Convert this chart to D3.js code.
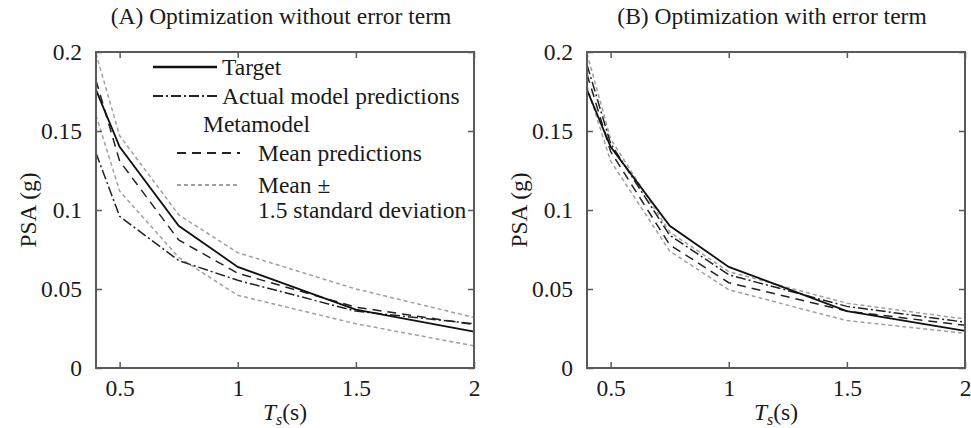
<!DOCTYPE html>
<html>
<head>
<meta charset="utf-8">
<script src="https://cdn.jsdelivr.net/npm/d3@7"></script>
<style>
  body { margin: 0; background: #fff; }
  svg { display: block; font-family: "Liberation Serif", "Times New Roman", serif; }
  svg text { font-family: "Liberation Serif", "Times New Roman", serif; }
</style>
</head>
<body>
<svg id="chart" width="971" height="428"></svg>
<script>
// periods (s) and tick values
const periods = [0.4, 0.5, 0.75, 1, 1.5, 2];
const xTicks = [0.5, 1, 1.5, 2];
const yTicks = [0, 0.05, 0.1, 0.15, 0.2];
const titles = ["(A) Optimization without error term", "(B) Optimization with error term"];

// panel A - without error term
const targetA = [0.176, 0.140, 0.090, 0.064, 0.037, 0.023];
const actualA = [0.136, 0.096, 0.068, 0.0555, 0.036, 0.028];
const meanA   = [0.182, 0.131, 0.081, 0.060, 0.0385, 0.0275];
const upperA  = [0.199, 0.147, 0.097, 0.073, 0.050, 0.032];
const lowerA  = [0.160, 0.112, 0.070, 0.046, 0.028, 0.014];

// panel B - with error term
const targetB = [0.176, 0.140, 0.090, 0.064, 0.036, 0.0235];
const actualB = [0.192, 0.142, 0.084, 0.059, 0.039, 0.029];
const meanB   = [0.186, 0.137, 0.078, 0.054, 0.036, 0.027];
const upperB  = [0.199, 0.145, 0.086, 0.061, 0.041, 0.031];
const lowerB  = [0.178, 0.131, 0.074, 0.0495, 0.030, 0.022];

const svg = d3.select('#chart');
const fontSize = 23.5;
const serif = '"Liberation Serif", "Times New Roman", serif';
const frameColor = '#5a5a5a';
const textColor = '#1a1a1a';

// line styles
const styles = {
  target: { stroke: '#111', width: 1.8, dash: null },
  actual: { stroke: '#222', width: 1.5, dash: '10,3,2,3' },
  mean:   { stroke: '#222', width: 1.5, dash: '9,6' },
  band:   { stroke: '#a0a0a0', width: 1.5, dash: '4,3' }
};

function drawPanel(left, right, top, bottom, title, series){
  const x = d3.scaleLinear().domain([0.4, 2]).range([left, right]);
  const y = d3.scaleLinear().domain([0, 0.2]).range([bottom, top]);
  const g = svg.append('g');

  const line = d3.line().x(d => x(d[0])).y(d => y(d[1]));

  // curves (grey bands first, then black lines on top)
  series.forEach(s => {
    const st = styles[s.kind];
    g.append('path')
      .datum(periods.map((p, i) => [p, s.values[i]]))
      .attr('d', line)
      .attr('fill', 'none')
      .attr('stroke', st.stroke)
      .attr('stroke-width', st.width)
      .attr('stroke-dasharray', st.dash);
  });

  // axes with inward ticks, mirrored on top/right
  const axB = g.append('g').attr('transform', `translate(0,${bottom})`)
    .call(d3.axisBottom(x).tickValues(xTicks).tickSizeInner(-6).tickSizeOuter(0).tickPadding(11).tickFormat(d3.format('')));
  const axL = g.append('g').attr('transform', `translate(${left},0)`)
    .call(d3.axisLeft(y).tickValues(yTicks).tickSizeInner(-6).tickSizeOuter(0).tickPadding(14).tickFormat(d3.format('')));
  const axT = g.append('g').attr('transform', `translate(0,${top})`)
    .call(d3.axisTop(x).tickValues(xTicks).tickSizeInner(-6).tickSizeOuter(0).tickFormat(''));
  const axR = g.append('g').attr('transform', `translate(${right},0)`)
    .call(d3.axisRight(y).tickValues(yTicks).tickSizeInner(-6).tickSizeOuter(0).tickFormat(''));

  [axB, axL, axT, axR].forEach(a => {
    a.attr('font-family', serif);
    a.select('.domain').remove();
    a.selectAll('line').attr('stroke', frameColor).attr('stroke-width', 1.5);
    a.selectAll('text').attr('font-family', serif).attr('font-size', fontSize).attr('fill', textColor);
  });
  axB.selectAll('text').attr('dy', '0.71em');

  // frame
  g.append('rect')
    .attr('x', left).attr('y', top)
    .attr('width', right - left).attr('height', bottom - top)
    .attr('fill', 'none').attr('stroke', frameColor).attr('stroke-width', 2);

  // title
  g.append('text')
    .attr('x', (left + right) / 2 - 4).attr('y', 24)
    .attr('text-anchor', 'middle').attr('font-size', fontSize).attr('fill', textColor)
    .text(title);

  // y label
  g.append('text')
    .attr('transform', `translate(${left - 60},${(top + bottom) / 2}) rotate(-90)`)
    .attr('text-anchor', 'middle').attr('font-size', fontSize).attr('fill', textColor)
    .text('PSA (g)');

  // x label T_s(s)
  const xl = g.append('text')
    .attr('x', (left + right) / 2).attr('y', 420)
    .attr('text-anchor', 'middle').attr('font-size', fontSize).attr('fill', textColor);
  xl.append('tspan').attr('font-style', 'italic').text('T');
  xl.append('tspan').attr('font-style', 'italic').attr('font-size', 16).attr('dy', 5).text('s');
  xl.append('tspan').attr('dy', -5).text('(s)');

  return { x, y, g };
}

drawPanel(96, 474, 52, 368, titles[0], [
  { kind: 'band', values: upperA },
  { kind: 'band', values: lowerA },
  { kind: 'actual', values: actualA },
  { kind: 'mean', values: meanA },
  { kind: 'target', values: targetA }
]);

drawPanel(587, 965, 52, 368, titles[1], [
  { kind: 'band', values: upperB },
  { kind: 'band', values: lowerB },
  { kind: 'actual', values: actualB },
  { kind: 'mean', values: meanB },
  { kind: 'target', values: targetB }
]);

// legend inside panel A
const legend = [
  { kind: 'target', x0: 153, x1: 217, y: 67, tx: 222, label: 'Target' },
  { kind: 'actual', x0: 153, x1: 217, y: 96, tx: 222, label: 'Actual model predictions' },
  { kind: 'mean',   x0: 177, x1: 240, y: 153, tx: 258, label: 'Mean predictions' },
  { kind: 'band',   x0: 177, x1: 240, y: 185, tx: 258, label: 'Mean ±' }
];
const lg = svg.append('g');
legend.forEach(d => {
  const st = styles[d.kind];
  lg.append('line')
    .attr('x1', d.x0).attr('x2', d.x1).attr('y1', d.y).attr('y2', d.y)
    .attr('stroke', st.stroke).attr('stroke-width', d.kind == 'target' ? 2.5 : 2)
    .attr('stroke-dasharray', st.dash);
  lg.append('text')
    .attr('x', d.tx).attr('y', d.y + 8)
    .attr('font-size', fontSize).attr('fill', textColor)
    .text(d.label);
});
lg.append('text').attr('x', 203).attr('y', 132).attr('font-size', fontSize).attr('fill', textColor).text('Metamodel');
lg.append('text').attr('x', 258).attr('y', 218).attr('font-size', fontSize).attr('fill', textColor).text('1.5 standard deviation');
</script>
</body>
</html>
